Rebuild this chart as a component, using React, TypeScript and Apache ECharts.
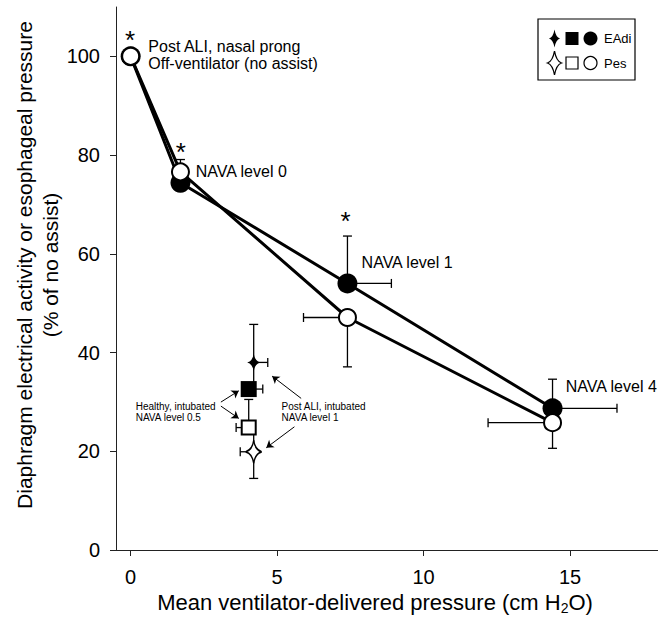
import React, { useEffect, useRef } from "react";
import * as echarts from "echarts";

const FONT = '"Liberation Sans", Arial, Helvetica, sans-serif';

// ---- Main NAVA series (mean ventilator-delivered pressure, % of no assist)
const navaLevels = ["Off-ventilator", "NAVA level 0", "NAVA level 1", "NAVA level 4"];
const navaX = [0, 1.7, 7.4, 14.4];
const eadiY = [100, 74.4, 54.0, 28.7];
const pesY = [100, 76.6, 47.1, 25.8];
const eadiYErrHigh = [null, 79.1, 63.6, 34.6];
const pesYErrLow = [null, null, 37.1, 20.6];
const eadiXErrHigh = [null, null, 8.9, 16.6];
const pesXErrLow = [null, null, 5.9, 12.2];

// ---- Intubated groups: [Post ALI intubated NAVA 1 (stars), Healthy intubated NAVA 0.5 (squares)]
const intubGroups = ["Post ALI, intubated NAVA level 1", "Healthy, intubated NAVA level 0.5"];
const intubX = [4.2, 4.03];
const intubEadiY = [38.0, 32.6];
const intubPesY = [19.9, 24.8];
const intubEadiYErrHigh = [45.7, null];
const intubPesYErrLow = [14.5, null];
const intubPesYErrHigh = [null, 30.5];
const intubEadiXErrHigh = [4.68, 4.51];
const intubPesXErrLow = [3.74, 3.6];

// ---- Significance asterisks
const sigX = [0, 1.73, 7.35];
const sigY = [104.3, 81.6, 67.5];

// ---- Text annotations
const noteTexts = [
  "Post ALI, nasal prong\nOff-ventilator (no assist)",
  "NAVA level 0",
  "NAVA level 1",
  "NAVA level 4",
];
const noteX = [0.62, 2.24, 7.9, 14.87];
const noteY = [100.2, 76.6, 58.1, 33.1];

const smallNoteTexts = ["Healthy, intubated\nNAVA level 0.5", "Post ALI, intubated\nNAVA level 1"];
const smallNoteX = [0.19, 5.17];
const smallNoteY = [27.9, 27.9];

// arrows: start -> end
const arrowStartX = [3.08, 3.08, 5.82, 5.59];
const arrowStartY = [29.96, 29.15, 30.71, 24.96];
const arrowEndX = [3.69, 3.69, 4.83, 4.63];
const arrowEndY = [32.25, 26.66, 35.22, 20.71];

const xTicks = [0, 5, 10, 15];
const yTicks = [0, 20, 40, 60, 80, 100];

function starD(hw: number, hh: number, k: number) {
  return `M0,${-hh} Q${k},${-k} ${hw},0 Q${k},${k} 0,${hh} Q${-k},${k} ${-hw},0 Q${-k},${-k} 0,${-hh} Z`;
}

let registered = false;
function registerShapes() {
  if (registered) return;
  registered = true;
  echarts.graphic.registerShape("starSmallLegend", echarts.graphic.extendPath(starD(5.5, 9, 1.3), {}) as any);
  echarts.graphic.registerShape("starBigLegend", echarts.graphic.extendPath(starD(7, 12, 1.8), {}) as any);
}

const textLabelBase = {
  show: true,
  position: [0, 0],
  color: "#000",
  fontFamily: FONT,
  textBorderWidth: 0,
  textShadowBlur: 0,
};

const invisible = { color: "rgba(0,0,0,0)", borderWidth: 0, opacity: 1 };

export default function App() {
  const ref = useRef<HTMLDivElement>(null);

  useEffect(() => {
    if (!ref.current) return;
    registerShapes();
    const chart = echarts.init(ref.current, null, { renderer: "svg" });

    // error bar segments [x1, y1, x2, y2, cap]
    const segs: number[][] = [];
    navaX.forEach((x, i) => {
      if (eadiYErrHigh[i] != null) segs.push([x, eadiY[i], x, eadiYErrHigh[i] as number, 1]);
      if (pesYErrLow[i] != null) segs.push([x, pesY[i], x, pesYErrLow[i] as number, 1]);
      if (eadiXErrHigh[i] != null) segs.push([x, eadiY[i], eadiXErrHigh[i] as number, eadiY[i], 1]);
      if (pesXErrLow[i] != null) segs.push([x, pesY[i], pesXErrLow[i] as number, pesY[i], 1]);
    });
    intubX.forEach((x, i) => {
      if (intubEadiYErrHigh[i] != null) segs.push([x, intubEadiY[i], x, intubEadiYErrHigh[i] as number, 1]);
      if (intubPesYErrLow[i] != null) segs.push([x, intubPesY[i], x, intubPesYErrLow[i] as number, 1]);
      if (intubPesYErrHigh[i] != null) segs.push([x, intubPesY[i], x, intubPesYErrHigh[i] as number, 1]);
      segs.push([x, intubEadiY[i], intubEadiXErrHigh[i], intubEadiY[i], 1]);
      segs.push([x, intubPesY[i], intubPesXErrLow[i], intubPesY[i], 1]);
    });
    // connecting segments between stacked intubated markers
    segs.push([intubX[0], intubEadiY[0], intubX[0], intubEadiY[1], 0]);
    segs.push([intubX[0], intubPesY[0], intubX[0], intubPesY[1], 0]);

    const starSym = "path://" + starD(10, 10, 1.6);

    const option: any = {
      animation: false,
      backgroundColor: "#fff",
      grid: { left: 116, top: 7, width: 542, height: 543, containLabel: false },
      xAxis: {
        type: "value",
        min: -0.5,
        max: 18,
        splitLine: { show: false },
        axisLine: { onZero: false, lineStyle: { color: "#222", width: 1 } },
        axisTick: { customValues: xTicks, length: 6, lineStyle: { color: "#222" } },
        axisLabel: { customValues: xTicks, fontSize: 20, color: "#000", fontFamily: FONT, margin: 17 },
      },
      yAxis: {
        type: "value",
        min: 0,
        max: 110,
        splitLine: { show: false },
        axisLine: { onZero: false, lineStyle: { color: "#222", width: 1 } },
        axisTick: { customValues: yTicks, length: 6, lineStyle: { color: "#222" } },
        axisLabel: { customValues: yTicks, fontSize: 20, color: "#000", fontFamily: FONT, margin: 16 },
      },
      graphic: [
        {
          type: "text",
          x: 37,
          y: 265,
          rotation: Math.PI / 2,
          style: {
            text: "Diaphragm electrical activity or esophageal pressure\n(% of no assist)",
            fontSize: 21,
            fontFamily: FONT,
            fill: "#000",
            align: "center",
            verticalAlign: "middle",
            textAlign: "center",
            textVerticalAlign: "middle",
            lineHeight: 26,
          },
        },
        {
          type: "text",
          x: 375,
          y: 602,
          style: {
            text: "Mean ventilator-delivered pressure (cm H{s|2}O)",
            fontSize: 22,
            fontFamily: FONT,
            fill: "#000",
            align: "center",
            verticalAlign: "middle",
            textAlign: "center",
            textVerticalAlign: "middle",
            lineHeight: 26,
            rich: {
              s: { fontSize: 14, fontFamily: FONT, fill: "#000", verticalAlign: "bottom", lineHeight: 14 },
            },
          },
        },
        // legend box
        {
          type: "group",
          children: [
            { type: "rect", shape: { x: 538, y: 19, width: 97, height: 61 }, style: { fill: "#fff", stroke: "#000", lineWidth: 1.2 } },
            { type: "starSmallLegend", x: 554.5, y: 38.5, style: { fill: "#000" } },
            { type: "rect", shape: { x: 565.5, y: 32, width: 13, height: 13 }, style: { fill: "#000" } },
            { type: "circle", shape: { cx: 590.5, cy: 38.5, r: 7 }, style: { fill: "#000" } },
            { type: "text", x: 604, y: 38.5, style: { text: "EAdi", fontSize: 13, fontFamily: FONT, fill: "#000", verticalAlign: "middle", textVerticalAlign: "middle" } },
            { type: "starBigLegend", x: 554.5, y: 63, style: { fill: "#fff", stroke: "#000", lineWidth: 1.3 } },
            { type: "rect", shape: { x: 566, y: 57, width: 12, height: 12 }, style: { fill: "#fff", stroke: "#000", lineWidth: 1.2 } },
            { type: "circle", shape: { cx: 590.5, cy: 63, r: 6.5 }, style: { fill: "#fff", stroke: "#000", lineWidth: 1.2 } },
            { type: "text", x: 604, y: 63, style: { text: "Pes", fontSize: 13, fontFamily: FONT, fill: "#000", verticalAlign: "middle", textVerticalAlign: "middle" } },
          ],
        },
      ],
      series: [
        {
          type: "custom",
          name: "error bars",
          z: 2,
          silent: true,
          data: segs,
          encode: { x: [0, 2], y: [1, 3] },
          renderItem: (params: any, api: any) => {
            const x1 = api.value(0), y1 = api.value(1), x2 = api.value(2), y2 = api.value(3), cap = api.value(4);
            const p1 = api.coord([x1, y1]);
            const p2 = api.coord([x2, y2]);
            const children: any[] = [
              { type: "line", shape: { x1: p1[0], y1: p1[1], x2: p2[0], y2: p2[1] }, style: { stroke: "#000", lineWidth: 1.3 } },
            ];
            if (cap) {
              const vertical = Math.abs(p1[0] - p2[0]) < Math.abs(p1[1] - p2[1]);
              const h = 4.5;
              children.push(
                vertical
                  ? { type: "line", shape: { x1: p2[0] - h, y1: p2[1], x2: p2[0] + h, y2: p2[1] }, style: { stroke: "#000", lineWidth: 1.3 } }
                  : { type: "line", shape: { x1: p2[0], y1: p2[1] - h, x2: p2[0], y2: p2[1] + h }, style: { stroke: "#000", lineWidth: 1.3 } }
              );
            }
            return { type: "group", children };
          },
        },
        {
          type: "line",
          name: "EAdi",
          z: 3,
          data: navaX.map((x, i) => [x, eadiY[i]]),
          symbol: "circle",
          symbolSize: 20,
          showAllSymbol: true,
          itemStyle: { color: "#000", opacity: 1 },
          lineStyle: { color: "#000", width: 3 },
          emphasis: { disabled: true },
        },
        {
          type: "line",
          name: "Pes",
          z: 4,
          data: navaX.map((x, i) => [x, pesY[i]]),
          symbol: "circle",
          symbolSize: 17,
          showAllSymbol: true,
          itemStyle: { color: "#fff", borderColor: "#000", borderWidth: 2, opacity: 1 },
          lineStyle: { color: "#000", width: 3 },
          emphasis: { disabled: true },
        },
        {
          type: "scatter",
          name: "Healthy EAdi",
          z: 5,
          data: [[intubX[1], intubEadiY[1]]],
          symbol: "rect",
          symbolSize: 16,
          itemStyle: { color: "#000", opacity: 1 },
          emphasis: { disabled: true },
        },
        {
          type: "scatter",
          name: "Healthy Pes",
          z: 5,
          data: [[intubX[1], intubPesY[1]]],
          symbol: "rect",
          symbolSize: 14,
          itemStyle: { color: "#fff", borderColor: "#000", borderWidth: 2, opacity: 1 },
          emphasis: { disabled: true },
        },
        {
          type: "scatter",
          name: "Post ALI intubated EAdi",
          z: 6,
          data: [[intubX[0], intubEadiY[0]]],
          symbol: starSym,
          symbolSize: [13, 18],
          itemStyle: { color: "#000", opacity: 1 },
          emphasis: { disabled: true },
        },
        {
          type: "scatter",
          name: "Post ALI intubated Pes",
          z: 6,
          data: [[intubX[0], intubPesY[0]]],
          symbol: starSym,
          symbolSize: [16, 23],
          itemStyle: { color: "#fff", borderColor: "#000", borderWidth: 1.5, opacity: 1 },
          emphasis: { disabled: true },
        },
        {
          type: "lines",
          coordinateSystem: "cartesian2d",
          z: 7,
          silent: true,
          symbol: ["none", "arrow"],
          symbolSize: 7,
          lineStyle: { color: "#000", width: 1, opacity: 1 },
          data: arrowStartX.map((x, i) => ({ coords: [[x, arrowStartY[i]], [arrowEndX[i], arrowEndY[i]]] })),
        },
        {
          type: "scatter",
          name: "notes",
          z: 8,
          silent: true,
          symbolSize: 1,
          itemStyle: invisible,
          data: noteTexts.map((t, i) => ({ value: [noteX[i], noteY[i]], label: { formatter: t } })),
          label: { ...textLabelBase, align: "left", verticalAlign: "middle", fontSize: 16, lineHeight: 17 },
        },
        {
          type: "scatter",
          name: "small notes",
          z: 8,
          silent: true,
          symbolSize: 1,
          itemStyle: invisible,
          data: smallNoteTexts.map((t, i) => ({ value: [smallNoteX[i], smallNoteY[i]], label: { formatter: t } })),
          label: { ...textLabelBase, align: "left", verticalAlign: "middle", fontSize: 10, lineHeight: 11 },
        },
        {
          type: "scatter",
          name: "significance",
          z: 8,
          silent: true,
          symbolSize: 1,
          itemStyle: invisible,
          data: sigX.map((x, i) => [x, sigY[i]]),
          label: { ...textLabelBase, formatter: "*", align: "center", verticalAlign: "middle", offset: [0, 5], fontSize: 26 },
        },
      ],
    };

    chart.setOption(option);
    return () => chart.dispose();
  }, []);

  return <div ref={ref} style={{ position: "absolute", left: 0, top: 0, width: 658, height: 617 }} />;
}
